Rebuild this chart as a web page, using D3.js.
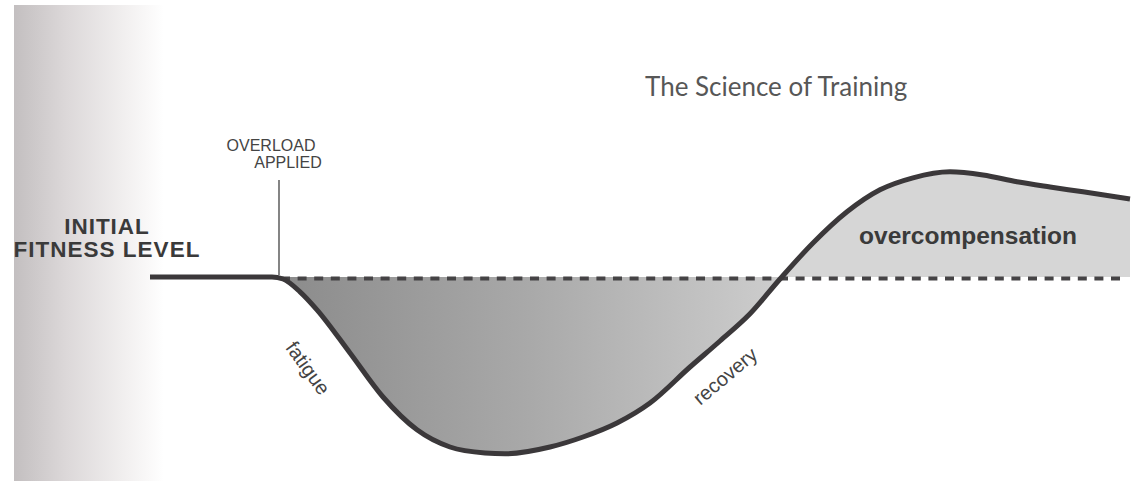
<!DOCTYPE html>
<html>
<head>
<meta charset="utf-8">
<script src="https://cdn.jsdelivr.net/npm/d3@7"></script>
<style>
  html, body { margin: 0; padding: 0; background: #fff; }
  svg { display: block; }
</style>
</head>
<body>
<div id="root"></div>
<script>
// Constant. SVG Coordinate
const width = 1134;
const height = 482;

// Data: time (arbitrary units) and fitness level
const days = [0, 12.2, 13.3, 15, 16.7, 20, 23.3, 26.7, 30, 33.5, 35.5, 40, 43.3, 46.7, 50, 54, 57, 60, 63, 66.3, 69.7, 73, 76.3, 80, 83.3, 86.7, 90, 93.3, 98];
const fitness = [100, 100, 99.5, 96.3, 91.8, 81, 70, 61.8, 57.5, 56, 55.8, 57.5, 60, 63.5, 68.5, 77.5, 84, 90.8, 99.5, 108.5, 116.3, 121.8, 124.8, 126.3, 125.5, 123.8, 122.5, 121.3, 119.5];
const initialLevel = 100;
const overloadDay = 12.9;
const crossDay = 63;
const dashEnd = 97;

const title = "The Science of Training";
const overloadLabel = ["OVERLOAD", "APPLIED"];
const initialLabel = ["INITIAL", "FITNESS LEVEL"];
const phaseLabels = ["fatigue", "recovery", "overcompensation"];

const points = days.map((d, i) => ({ t: d, v: fitness[i] }));

const svg = d3.select("#root")
    .append("svg")
    .attr("width", width)
    .attr("height", height);

const xScale = d3.scaleLinear()
    .domain([0, 98])
    .range([150, 1130]);

const yScale = d3.scaleLinear()
    .domain([50, 130])
    .range([477, 157]);

const defs = svg.append("defs");

// scan shadow on the left edge
const shadow = defs.append("linearGradient")
    .attr("id", "shadow")
    .attr("x1", 0).attr("x2", 1).attr("y1", 0).attr("y2", 0);
shadow.append("stop").attr("offset", 0).attr("stop-color", "#c3bfc0");
shadow.append("stop").attr("offset", 0.35).attr("stop-color", "#dcd8d9");
shadow.append("stop").attr("offset", 0.75).attr("stop-color", "#f2f0f0");
shadow.append("stop").attr("offset", 1).attr("stop-color", "#ffffff");

svg.append("rect")
    .attr("x", 14)
    .attr("y", 5)
    .attr("width", 150)
    .attr("height", 476)
    .attr("fill", "url(#shadow)");

// fill for the dip below the initial level
const dipFill = defs.append("linearGradient")
    .attr("id", "dipFill")
    .attr("gradientUnits", "userSpaceOnUse")
    .attr("x1", xScale(overloadDay)).attr("x2", xScale(crossDay))
    .attr("y1", 0).attr("y2", 0);
dipFill.append("stop").attr("offset", 0).attr("stop-color", "#8b8b8b");
dipFill.append("stop").attr("offset", 0.5).attr("stop-color", "#a9a9a9");
dipFill.append("stop").attr("offset", 1).attr("stop-color", "#cdcdcd");

const base = yScale(initialLevel);

defs.append("clipPath").attr("id", "below")
    .append("rect")
    .attr("x", 0).attr("y", base)
    .attr("width", width).attr("height", height - base);

defs.append("clipPath").attr("id", "above")
    .append("rect")
    .attr("x", 0).attr("y", 0)
    .attr("width", width).attr("height", base);

const curvePoints = points.filter(p => p.t >= days[1]);

const area = d3.area()
    .x(d => xScale(d.t))
    .y0(base)
    .y1(d => yScale(d.v))
    .curve(d3.curveMonotoneX);

svg.append("path")
    .datum(curvePoints)
    .attr("clip-path", "url(#below)")
    .attr("fill", "url(#dipFill)")
    .attr("d", area);

svg.append("path")
    .datum(curvePoints)
    .attr("clip-path", "url(#above)")
    .attr("fill", "#d6d6d6")
    .attr("d", area);

// dashed initial level
svg.append("line")
    .attr("x1", xScale(overloadDay) + 2)
    .attr("x2", xScale(dashEnd))
    .attr("y1", base + 1.5)
    .attr("y2", base + 1.5)
    .attr("stroke", "#454345")
    .attr("stroke-width", 4)
    .attr("stroke-dasharray", "9 7.6");

// fitness curve
const line = d3.line()
    .x(d => xScale(d.t))
    .y(d => yScale(d.v))
    .curve(d3.curveMonotoneX);

svg.append("path")
    .datum(points)
    .attr("fill", "none")
    .attr("stroke", "#3b383a")
    .attr("stroke-width", 5)
    .attr("d", line);

// overload marker
svg.append("line")
    .attr("x1", xScale(overloadDay))
    .attr("x2", xScale(overloadDay))
    .attr("y1", 180)
    .attr("y2", base - 2)
    .attr("stroke", "#333")
    .attr("stroke-width", 1.2);

// Labels
svg.append("text")
    .attr("x", 645)
    .attr("y", 96)
    .attr("font-family", "Lato, sans-serif")
    .attr("font-size", 26)
    .attr("fill", "#575757")
    .text(title);

svg.append("text")
    .attr("x", 271)
    .attr("y", 151)
    .attr("text-anchor", "middle")
    .attr("font-family", "Liberation Sans, Arial, sans-serif")
    .attr("font-size", 16)
    .attr("fill", "#444")
    .text(overloadLabel[0]);

svg.append("text")
    .attr("x", 288)
    .attr("y", 168)
    .attr("text-anchor", "middle")
    .attr("font-family", "Liberation Sans, Arial, sans-serif")
    .attr("font-size", 16)
    .attr("fill", "#444")
    .text(overloadLabel[1]);

svg.selectAll(".initial")
    .data(initialLabel)
    .enter().append("text")
    .attr("class", "initial")
    .attr("x", 107)
    .attr("y", (d, i) => 234 + i * 23)
    .attr("text-anchor", "middle")
    .attr("font-family", "Liberation Sans, Arial, sans-serif")
    .attr("font-weight", "bold")
    .attr("font-size", 22.5)
    .attr("letter-spacing", 1)
    .attr("fill", "#3a3a3a")
    .text(d => d);

svg.append("text")
    .attr("transform", "translate(308,368) rotate(54)")
    .attr("text-anchor", "middle")
    .attr("dy", "0.35em")
    .attr("font-family", "Liberation Sans, Arial, sans-serif")
    .attr("font-size", 20)
    .attr("fill", "#444")
    .text(phaseLabels[0]);

svg.append("text")
    .attr("transform", "translate(725,376) rotate(-40)")
    .attr("text-anchor", "middle")
    .attr("dy", "0.35em")
    .attr("font-family", "Liberation Sans, Arial, sans-serif")
    .attr("font-size", 20)
    .attr("fill", "#444")
    .text(phaseLabels[1]);

svg.append("text")
    .attr("x", 968)
    .attr("y", 244)
    .attr("text-anchor", "middle")
    .attr("font-family", "Liberation Sans, Arial, sans-serif")
    .attr("font-weight", "bold")
    .attr("font-size", 24.5)
    .attr("fill", "#3a3a3a")
    .text(phaseLabels[2]);
</script>
</body>
</html>
